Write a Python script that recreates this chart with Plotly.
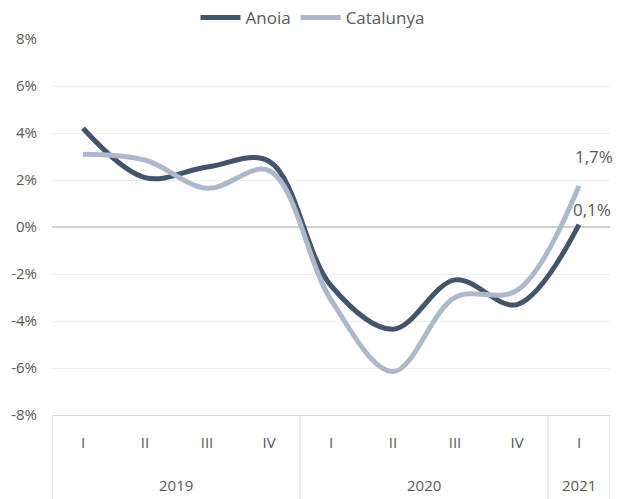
import plotly.graph_objects as go

years = ["2019", "2019", "2019", "2019", "2020", "2020", "2020", "2020", "2021"]
quarters = ["I", "II", "III", "IV", "I", "II", "III", "IV", "I"]
anoia = [4.2, 2.1, 2.55, 2.8, -2.5, -4.35, -2.25, -3.3, 0.1]
catalunya = [3.1, 2.85, 1.65, 2.4, -3.1, -6.15, -3.0, -2.7, 1.75]
y_ticks = [-8, -6, -4, -2, 0, 2, 4, 6, 8]
y_labels = [f"{v}%" for v in y_ticks]

FONT = "Open Sans"
TXT = "#595959"
LINE = "#D9D9D9"

cats = [f"{y} {q}" for y, q in zip(years, quarters)]

fig = go.Figure()
fig.add_trace(go.Scatter(x=cats, y=anoia, name="Anoia", mode="lines",
                         line=dict(color="#44546A", width=5, shape="spline", smoothing=1.0)))
fig.add_trace(go.Scatter(x=cats, y=catalunya, name="Catalunya", mode="lines",
                         line=dict(color="#ADB9CA", width=5, shape="spline", smoothing=1.0)))

def fmt(v):
    return f"{v:.1f}".replace(".", ",") + "%"

fig.add_annotation(x=cats[-1], y=catalunya[-1], text=fmt(1.7),
                   xref="x", yref="y", showarrow=False, xanchor="left", yanchor="bottom",
                   xshift=-6, yshift=16, font=dict(family=FONT, size=17, color=TXT))
fig.add_annotation(x=cats[-1], y=anoia[-1], text=fmt(0.1),
                   xref="x", yref="y", showarrow=False, xanchor="left", yanchor="bottom",
                   xshift=-8, yshift=2, font=dict(family=FONT, size=17, color=TXT))

# year groups: labels and dividers
groups = []
for i, y in enumerate(years):
    if not groups or groups[-1][0] != y:
        groups.append([y, i, i])
    else:
        groups[-1][2] = i
bounds = [groups[0][1] - 0.5] + [g[2] + 0.5 for g in groups]
for b in bounds:
    fig.add_shape(type="line", xref="x", yref="paper", x0=b, x1=b, y0=0, y1=-84 / 376,
                  line=dict(color=LINE, width=1))
for name, a, b in groups:
    fig.add_annotation(x=(a + b) / 2, y=0, xref="x", yref="paper", yshift=-70,
                       text=name, showarrow=False, yanchor="middle",
                       font=dict(family=FONT, size=15, color=TXT))

fig.update_layout(
    width=625, height=499,
    margin=dict(l=52, r=15, t=39, b=84, autoexpand=False),
    paper_bgcolor="white", plot_bgcolor="white",
    font=dict(family=FONT, size=14, color=TXT),
    legend=dict(orientation="h", x=0.5, xanchor="center", xref="container",
                y=1 - 18 / 499, yanchor="middle", yref="container",
                font=dict(family=FONT, size=17, color=TXT), itemwidth=40,
                bgcolor="rgba(0,0,0,0)"),
    showlegend=True,
)
fig.update_yaxes(range=[-8, 8], tickvals=y_ticks, ticktext=y_labels, showgrid=True,
                 gridcolor="#EEEEEE", gridwidth=1, zeroline=True, zerolinecolor="#D0D0D0",
                 zerolinewidth=1.5, showline=False,
                 tickfont=dict(family=FONT, size=15, color=TXT),
                 ticklabelstandoff=14, automargin=False, fixedrange=True)
fig.update_xaxes(type="category", range=[-0.5, len(cats) - 0.5], tickvals=cats,
                 ticktext=quarters, showgrid=False, showline=True, linecolor=LINE,
                 tickfont=dict(family=FONT, size=15, color=TXT), automargin=False,
                 ticks="", ticklabelstandoff=14, fixedrange=True)

fig.write_html("out.html", config={"displayModeBar": False},
               post_script="document.body.style.margin='0';")
